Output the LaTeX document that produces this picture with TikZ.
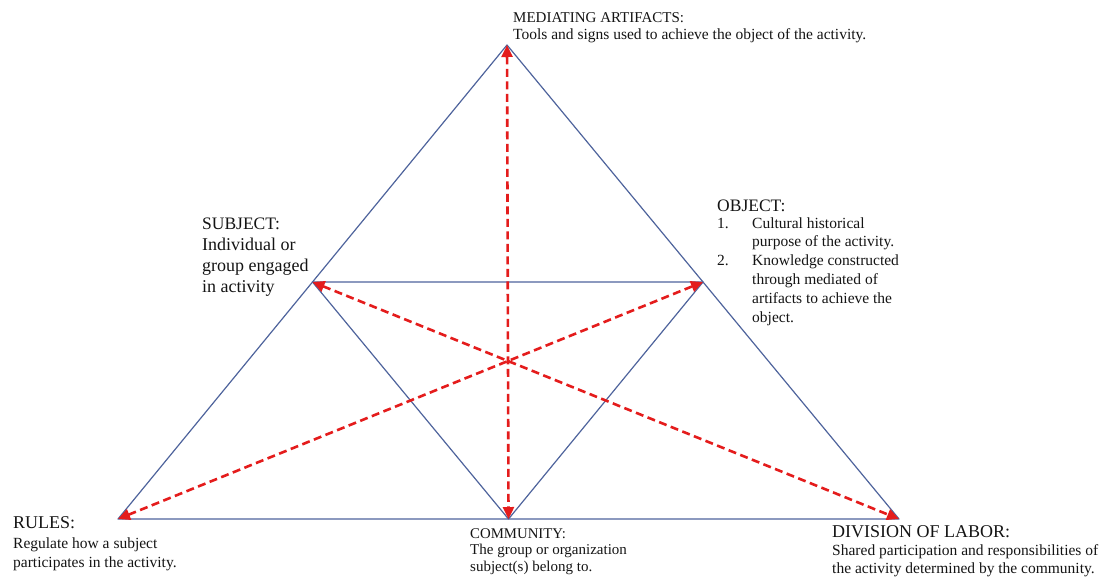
\documentclass[tikz,border=0pt]{standalone}
\usepackage{fontspec}
\setmainfont{Liberation Serif}
\usetikzlibrary{arrows.meta}
\definecolor{edgeblue}{RGB}{78,99,156}
\definecolor{arrowred}{RGB}{228,28,28}
\newcommand{\blk}[2]{\fontsize{#1}{#2}\selectfont}
\begin{document}
\begin{tikzpicture}[x=1pt,y=-1pt,
  edge/.style={draw=edgeblue, line width=1.2pt, line join=round},
  link/.style={draw=arrowred, line width=2.6pt, dash pattern=on 8pt off 4.5pt,
    {Triangle[length=12pt,width=11pt]}-{Triangle[length=12pt,width=11pt]}},
  lbl/.style={anchor=base west, inner sep=0pt, text=black!92}]
\useasboundingbox (0,0) rectangle (1107,579);
% vertices
\coordinate (T) at (507,45);
\coordinate (L) at (118,519);
\coordinate (R) at (899,519);
\coordinate (S) at (312.5,282);
\coordinate (O) at (703,282);
\coordinate (C) at (508.5,519);
% triangles
\draw[edge] (L) -- (T) -- (R) -- cycle;
\draw[edge] (S) -- (O) -- (C) -- cycle;
% dashed double arrows
\draw[link] (T) -- (C);
\draw[link] (S) -- (R);
\draw[link] (L) -- (O);
% labels
\node[lbl] (medtxt) at (513,22) {\blk{15.5}{17}\begin{tabular}[t]{@{}l@{}}{\blk{15}{17}MEDIATING ARTIFACTS:}\\ Tools and signs used to achieve the object of the activity.\end{tabular}};
\node[lbl] (subtxt) at (202,229) {\blk{18}{21.2}\begin{tabular}[t]{@{}l@{}}{\blk{17.5}{21}SUBJECT:}\\ Individual or\\ group engaged\\ in activity\end{tabular}};
\node[lbl] (objtxt) at (717,211) {\blk{15.5}{18.8}\begin{tabular}[t]{@{}p{35pt}@{}l@{}}\multicolumn{2}{@{}l@{}}{\blk{17.5}{19}OBJECT:}\\[-1.8pt]
1. & Cultural historical\\
   & purpose of the activity.\\
2. & Knowledge constructed\\
   & through mediated of\\
   & artifacts to achieve the\\
   & object.\end{tabular}};
\node[lbl] (ruletxt) at (13,528) {\blk{15.5}{19.5}\begin{tabular}[t]{@{}l@{}}{\blk{18}{19}RULES:}\\[0.5pt] Regulate how a subject\\ participates in the activity.\end{tabular}};
\node[lbl] (comtxt) at (470,538) {\blk{15}{16.5}\begin{tabular}[t]{@{}l@{}}{\blk{14.8}{16}COMMUNITY:}\\ The group or organization\\ subject(s) belong to.\end{tabular}};
\node[lbl] (divtxt) at (832,537) {\blk{15.5}{18}\begin{tabular}[t]{@{}l@{}}{\blk{18}{19}DIVISION OF LABOR:}\\ Shared participation and responsibilities of\\ the activity determined by the community.\end{tabular}};
\end{tikzpicture}
\end{document}
